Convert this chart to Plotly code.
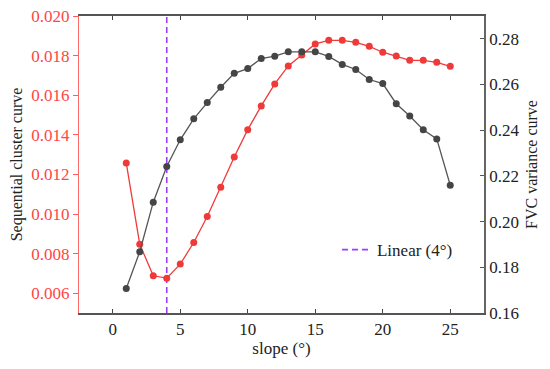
import plotly.graph_objects as go

slope = list(range(1, 26))
seq_cluster = [0.01258, 0.00847, 0.00688, 0.00676, 0.00747, 0.00856, 0.00987, 0.01135,
               0.01288, 0.01426, 0.01546, 0.01657, 0.01748, 0.01803, 0.01859, 0.01877,
               0.01877, 0.01867, 0.01847, 0.01817, 0.01798, 0.01776, 0.01776, 0.01766, 0.01746]
fvc_variance = [0.1707, 0.1868, 0.2085, 0.2241, 0.2358, 0.2450, 0.2521, 0.2588,
                0.2649, 0.2670, 0.2714, 0.2724, 0.2743, 0.2743, 0.2743, 0.2723,
                0.2688, 0.2666, 0.2622, 0.2604, 0.2516, 0.2462, 0.2402, 0.2362, 0.2159]
linear_x = [4, 4]
linear_y = [0.005, 0.020]
left_ticks = [0.006, 0.008, 0.010, 0.012, 0.014, 0.016, 0.018, 0.020]
right_ticks = [0.16, 0.18, 0.20, 0.22, 0.24, 0.26, 0.28]
x_ticks = [0, 5, 10, 15, 20, 25]

FONT = "Liberation Serif, Times New Roman, serif"
RED = "#F03A3A"
DARK = "#454545"
PURPLE = "#9B3DFF"

fig = go.Figure()
fig.add_trace(go.Scatter(x=linear_x, y=linear_y, mode="lines", name="Linear (4°)",
                         line=dict(color=PURPLE, width=1.6, dash="6px,4px"),
                         yaxis="y", showlegend=True))
fig.add_trace(go.Scatter(x=slope, y=seq_cluster, mode="lines+markers", name="Sequential cluster curve",
                         line=dict(color=RED, width=1.3),
                         marker=dict(color=RED, size=7), yaxis="y", showlegend=False))
fig.add_trace(go.Scatter(x=slope, y=fvc_variance, mode="lines+markers", name="FVC variance curve",
                         line=dict(color="#555555", width=1.3),
                         marker=dict(color=DARK, size=7), yaxis="y2", showlegend=False))

fig.update_layout(
    width=550, height=369,
    margin=dict(l=79, r=66, t=16, b=56),
    paper_bgcolor="white", plot_bgcolor="white",
    font=dict(family=FONT, size=17, color="#222222"),
    xaxis=dict(range=[-2.5, 27.5], tickvals=x_ticks, ticks="inside", ticklen=4,
               tickcolor="#444444", linecolor="#555555", linewidth=1.5, showline=True,
               mirror="ticks", showgrid=False, zeroline=False, automargin=False,
               title=dict(text="slope (°)", font=dict(size=17), standoff=4),
               tickfont=dict(size=17, color="#222222")),
    yaxis=dict(range=[0.005, 0.020], tickvals=left_ticks, tickformat=".3f",
               ticks="outside", ticklen=5, tickcolor="#FF5A5A",
               linecolor="#FF6A6A", linewidth=1.2, showline=True, mirror=False,
               showgrid=False, zeroline=False, automargin=False,
               tickfont=dict(size=17, color="#FF4545"),
               title=dict(text="Sequential cluster curve", font=dict(size=16, color="#222222"), standoff=4)),
    yaxis2=dict(range=[0.16, 0.29], tickvals=right_ticks, tickformat=".2f",
                overlaying="y", side="right", ticks="inside", ticklen=4,
                tickcolor="#555555", linecolor="#666666", linewidth=1.5, showline=True,
                showgrid=False, zeroline=False, automargin=False,
                tickfont=dict(size=17, color="#222222"),
                title=dict(text="FVC variance curve", font=dict(size=16, color="#222222"), standoff=7)),
    legend=dict(x=0.637, y=0.212, xanchor="left", yanchor="middle",
                bgcolor="rgba(0,0,0,0)", font=dict(size=17, color="#222222")),
    showlegend=True,
)

fig.write_html("out.html", config={"displayModeBar": False},
               post_script="document.body.style.margin='0';")
